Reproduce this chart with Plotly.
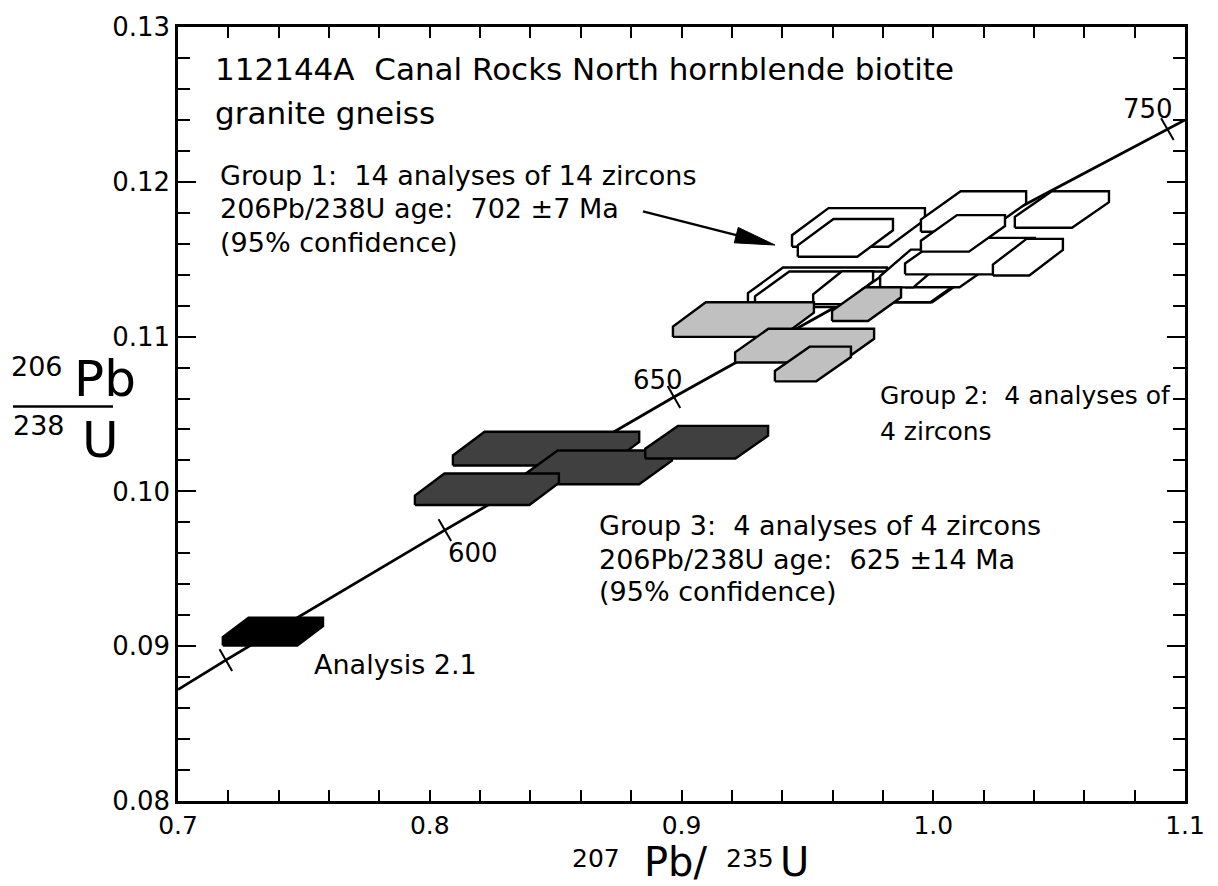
import math
import plotly.graph_objects as go

# ---------------- data ----------------
# Concordia curve points (207Pb/235U, 206Pb/238U)
conc_x = [0.700, 0.719, 0.806, 0.897, 0.992, 1.093, 1.100]
conc_y = [0.0872, 0.0891, 0.0975, 0.1061, 0.1147, 0.1234, 0.1240]

# Age marks on the concordia
age_text = ["", "600", "650", "750"]
age_x = [0.719, 0.806, 0.897, 1.093]
age_y = [0.0891, 0.0975, 0.1061, 0.1234]

# Group 1 (white) analyses: centre and half-widths
g1_x  = [0.9540, 0.9560, 0.9642, 0.9943, 0.9924, 1.0061, 0.9916, 1.0146, 1.0376, 0.9703, 0.9651, 1.0160, 1.0118, 1.0511]
g1_sx = [0.0276, 0.0268, 0.0119, 0.0195, 0.0214, 0.0173, 0.0127, 0.0258, 0.0139, 0.0264, 0.0189, 0.0209, 0.0167, 0.0187]
g1_y  = [0.11328, 0.11306, 0.11316, 0.11338, 0.11344, 0.11424, 0.11440, 0.11520, 0.11513, 0.11705, 0.11638, 0.11808, 0.11667, 0.11821]
g1_sy = [0.00118, 0.00115, 0.00106, 0.00116, 0.00122, 0.00105, 0.00122, 0.00118, 0.00118, 0.00125, 0.00122, 0.00131, 0.00118, 0.00118]

# Group 2 (grey)
g2_x  = [0.9246, 0.9489, 0.9522, 0.9735]
g2_sx = [0.0280, 0.0276, 0.0151, 0.0137]
g2_y  = [0.11110, 0.10942, 0.10823, 0.11210]
g2_sy = [0.00112, 0.00109, 0.00112, 0.00109]

# Group 3 (dark)
g3_x  = [0.8462, 0.8670, 0.9100, 0.8227]
g3_sx = [0.0370, 0.0292, 0.0244, 0.0286]
g3_y  = [0.10276, 0.10155, 0.10318, 0.10014]
g3_sy = [0.00109, 0.00109, 0.00105, 0.00102]

# Analysis 2.1 (black)
a21_x, a21_sx, a21_y, a21_sy = [0.7377], [0.0199], [0.09094], [0.00090]

x_ticks = [0.7, 0.8, 0.9, 1.0, 1.1]
y_ticks = [0.08, 0.09, 0.10, 0.11, 0.12, 0.13]

# ---------------- layout constants ----------------
W, H = 1218, 886
ML, MR, MT, MB = 178, 33, 20, 85
PW, PH = W - ML - MR, H - MT - MB
X0, X1, Y0, Y1 = 0.7, 1.1, 0.08, 0.13
FONT = "DejaVu Sans, Verdana, sans-serif"


def px(xp):
    return (xp - ML) / PW


def py(yp):
    return (H - MB - yp) / PH


def hexagon(xc, sx, yc, sy, f=0.3):
    xl, xr = xc - sx, xc + sx
    yb, yt = yc - sy, yc + sy
    h = yt - yb
    v = f * h
    k = yc / xc
    c = min((h - v) / k, 0.48 * (xr - xl))
    xs = [xl, xl, xl + c, xr, xr, xr - c, xl]
    ys = [yb, yb + v, yt, yt, yt - v, yb, yb]
    return xs, ys


fig = go.Figure()

# concordia
fig.add_trace(go.Scatter(x=conc_x, y=conc_y, mode="lines",
                         line=dict(color="black", width=2.8), hoverinfo="skip"))
fig.add_trace(go.Scatter(x=age_x, y=age_y, mode="markers",
                         marker=dict(symbol="line-ns", size=18, angle=-30,
                                     line=dict(color="black", width=2)),
                         hoverinfo="skip"))


def add_group(xs, sxs, ys, sys, fill):
    for xc, sx, yc, sy in zip(xs, sxs, ys, sys):
        hx, hy = hexagon(xc, sx, yc, sy)
        fig.add_trace(go.Scatter(x=hx, y=hy, mode="lines", fill="toself",
                                 fillcolor=fill,
                                 line=dict(color="black", width=2.4),
                                 hoverinfo="skip"))


add_group(g1_x, g1_sx, g1_y, g1_sy, "white")
add_group(g2_x, g2_sx, g2_y, g2_sy, "#c0c0c0")
add_group(g3_x, g3_sx, g3_y, g3_sy, "#404040")
add_group(a21_x, a21_sx, a21_y, a21_sy, "black")

ann = []


def text(s, xp, yp, size, xanchor="left", yanchor="middle", pad=1):
    ann.append(dict(text=s, x=px(xp), y=py(yp), xref="paper", yref="paper",
                    xanchor=xanchor, yanchor=yanchor, showarrow=False,
                    borderpad=pad,
                    font=dict(family=FONT, size=size, color="black")))


NB = "\u00a0"
text("112144A" + NB + NB + "Canal Rocks North hornblende biotite", 213, 62, 31)
text("granite gneiss", 213, 107, 31)
text("Group 1:" + NB + NB + "14 analyses of 14 zircons", 218, 170, 27)
text("206Pb/238U age:" + NB + NB + "702 ±7 Ma", 218, 203, 27)
text("(95% confidence)", 218, 237, 27)
text("Group 2:" + NB + NB + "4 analyses of", 878, 392, 25)
text("4 zircons", 878, 428, 25)
text("Group 3:" + NB + NB + "4 analyses of 4 zircons", 597, 523, 27)
text("206Pb/238U age:" + NB + NB + "625 ±14 Ma", 597, 557, 27)
text("(95% confidence)", 597, 590, 27)
text("Analysis 2.1", 312, 663, 27)

# age labels
for s, xp, yp in [("600", 473, 551), ("650", 658, 376), ("750", 1148, 103)]:
    text(s, xp, yp, 26, xanchor="center")

# y-axis title (stacked)
text("206", 37, 363, 27, xanchor="center")
text("Pb", 105, 375, 50, xanchor="center")
text("238", 39, 422, 27, xanchor="center")
text("U", 100, 437, 50, xanchor="center")

# x-axis title
text("207", 596, 859, 25, xanchor="center", pad=0)
text("Pb/", 676, 887, 40, xanchor="center", yanchor="bottom", pad=0)
text("235", 750, 859, 25, xanchor="center", pad=0)
text("U", 794, 887, 40, xanchor="center", yanchor="bottom", pad=0)

# arrow (shaft + head) in pixel-based paper coords
tail = (643, 206)
tip = (775, 240)
dx, dy = tip[0] - tail[0], tip[1] - tail[1]
L = math.hypot(dx, dy)
ux, uy = dx / L, dy / L
bx, by = tip[0] - 40 * ux, tip[1] - 40 * uy
nx, ny = -uy, ux
p1 = (bx + 8 * nx, by + 8 * ny)
p2 = (bx - 8 * nx, by - 8 * ny)
path = "M {} {} L {} {} L {} {} Z".format(px(tip[0]), py(tip[1]), px(p1[0]), py(p1[1]),
                                       px(p2[0]), py(p2[1]))
shapes = [dict(type="line", xref="paper", yref="paper",
               x0=px(tail[0]), y0=py(tail[1]), x1=px(bx), y1=py(by),
               line=dict(color="black", width=2.4)),
          dict(type="path", path=path, xref="paper", yref="paper",
               fillcolor="black", line=dict(color="black", width=1)),
          dict(type="line", xref="paper", yref="paper",
               x0=px(13), x1=px(113), y0=py(403), y1=py(403),
               line=dict(color="black", width=2.4))]

fig.update_layout(
    width=W, height=H,
    margin=dict(l=ML, r=MR, t=MT, b=MB, pad=0),
    paper_bgcolor="white", plot_bgcolor="white",
    showlegend=False,
    font=dict(family=FONT, size=26, color="black"),
    annotations=ann, shapes=shapes,
    xaxis=dict(range=[X0, X1], showline=True, linecolor="black", linewidth=2.5,
               mirror="ticks", ticks="inside", ticklen=11, tickwidth=2,
               tickcolor="black", tickvals=x_ticks,
               ticktext=["{:.1f}".format(v) for v in x_ticks],
               minor=dict(dtick=0.02, tick0=0.7, ticks="inside", ticklen=11,
                          tickwidth=2, tickcolor="black"),
               showgrid=False, zeroline=False,
               tickfont=dict(family=FONT, size=25, color="black")),
    yaxis=dict(range=[Y0, Y1], showline=True, linecolor="black", linewidth=2.5,
               mirror="ticks", ticks="inside", ticklen=18, tickwidth=2,
               tickcolor="black", tickvals=y_ticks,
               ticktext=["{:.2f}".format(v) for v in y_ticks],
               minor=dict(dtick=0.002, tick0=0.08, ticks="inside", ticklen=12,
                          tickwidth=2, tickcolor="black"),
               showgrid=False, zeroline=False,
               tickfont=dict(family=FONT, size=26, color="black")),
)

fig.write_html("out.html")
